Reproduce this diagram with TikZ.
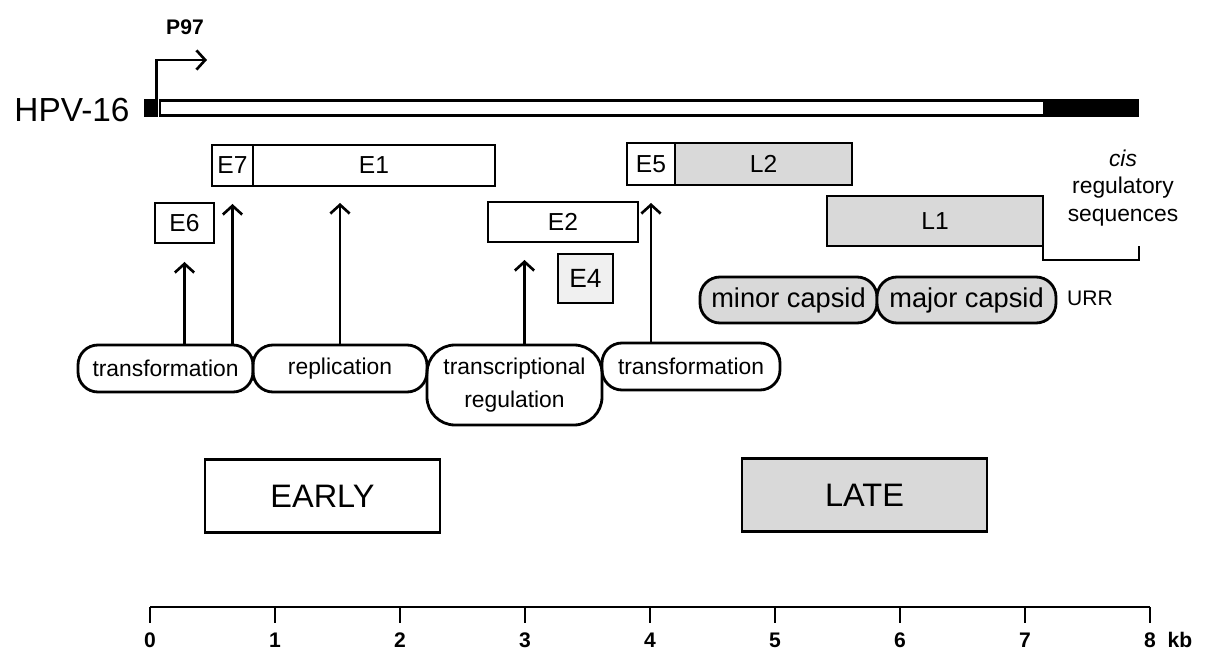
\documentclass[tikz,border=0pt]{standalone}
\usepackage{fontspec}
\setmainfont{Liberation Sans}
\usetikzlibrary{positioning,arrows.meta}
\newdimen\pxu \pxu=0.02cm
\definecolor{lategray}{gray}{0.85}
\begin{document}
\begin{tikzpicture}[x=0.02cm, y=-0.02cm,
gene/.style={rectangle, draw=black, line width=1.6pt, inner sep=1pt, outer sep=0pt, minimum height=41\pxu, font=\fontsize{14}{16}\selectfont},
lategene/.style={gene, fill=lategray},
func/.style={rectangle, rounded corners=20\pxu, draw=black, line width=1.6pt, inner sep=1pt, outer sep=0pt, minimum height=47\pxu, font=\fontsize{13}{19}\selectfont},
capsid/.style={func, fill=lategray, minimum height=46\pxu, font=\fontsize{15.5}{18}\selectfont},
phase/.style={rectangle, draw=black, line width=1.6pt, minimum height=73\pxu, font=\fontsize{18.5}{20}\selectfont},
actarrow/.style={-{Straight Barb[length=5pt,width=11pt]}, line width=1.5pt},
prom/.style={-{Straight Barb[length=5pt,width=11pt]}, line width=1.5pt},
]
\useasboundingbox (0,0) rectangle (1208,655);

% genome
\node[rectangle, draw=black, line width=1.5pt, fill=white, minimum width=978\pxu, minimum height=15\pxu, inner sep=0pt] (bar) at (649,108) {};
\node[rectangle, fill=black, minimum width=96\pxu, minimum height=17\pxu, inner sep=0pt, anchor=east] (urrbar) at (bar.east) {};
\node[rectangle, fill=black, minimum width=14\pxu, minimum height=18\pxu, inner sep=0pt, anchor=east] (start) at (bar.west) {};
\node[font=\fontsize{19}{21}\selectfont] (hpv) at (72,110) {HPV-16};
\coordinate (p97tip) at (207,60);
\draw[prom] ([xshift=-2\pxu]start.north east) |- (p97tip);
\node[font=\bfseries\fontsize{12}{14}\selectfont] (p97) at (185,27) {P97};

% early genes
\node[gene, minimum width=41\pxu] (e7) at (232.5,165.5) {E7};
\node[gene, minimum width=242\pxu, right=0pt of e7] (e1) {E1};
\node[gene, minimum width=59\pxu, minimum height=40\pxu] (e6) at (184.5,223) {E6};
\node[gene, minimum width=150\pxu, minimum height=40\pxu] (e2) at (563,222) {E2};
\node[gene, minimum width=55\pxu, minimum height=49\pxu, fill=gray!12, font=\fontsize{15}{17}\selectfont] (e4) at (585.5,278.5) {E4};
\node[gene, minimum width=48\pxu, minimum height=42\pxu] (e5) at (651,164) {E5};

% late genes
\node[lategene, minimum width=177\pxu, minimum height=42\pxu, right=0pt of e5] (l2) {L2};
\node[lategene, minimum width=216\pxu, minimum height=50\pxu] (l1) at (935,221) {L1};
\node[capsid, minimum width=177\pxu] (minor) at (788.5,300) {minor capsid};
\node[capsid, minimum width=179\pxu, right=0pt of minor] (major) {major capsid};

% regulatory region
\coordinate (cisR) at (1139,246);
\draw[line width=1.5pt] (l1.south east) -- ++(0,14) -| (cisR);
\node[align=center, font=\fontsize{13}{15.5}\selectfont] (cis) at (1123,188) {\textit{cis}\\regulatory\\sequences};
\node[font=\fontsize{12}{14}\selectfont] (urr) at (1090,298) {URR};

% functions
\node[func, minimum width=175\pxu] (trf1) at (165.5,368.5) {transformation};
\node[func, minimum width=174\pxu, right=0pt of trf1] (rep) {replication};
\node[func, minimum width=175\pxu, minimum height=80\pxu, rounded corners=28\pxu, align=center, anchor=north west] (treg) at (rep.north east) {transcriptional\\regulation};
\node[func, minimum width=178\pxu] (trf2) at (691,366.5) {transformation};

\path ([xshift=10\pxu]treg.north) coordinate (tregtop);
\draw[actarrow, shorten >=19\pxu] (trf1.north -| e6.south) -- (e6.south);
\draw[actarrow, shorten >=18\pxu] (trf1.north -| e7.south) -- (e7.south);
\draw[actarrow, shorten >=17\pxu] (rep.north) -- (rep.north |- e1.south);
\draw[actarrow, shorten >=18\pxu] (tregtop) -- (tregtop |- e2.south);
\draw[actarrow, shorten >=18\pxu] (trf2.north -| e5.south) -- (e5.south);

% phases
\node[phase, minimum width=235\pxu] (early) at (322.5,496) {EARLY};
\node[phase, fill=lategray, minimum width=245\pxu] (late) at (864.5,495) {LATE};

% scale
\draw[line width=1.5pt] (150,607) -- (1150,607);
\foreach \k in {0,...,8} {
  \draw[line width=1.5pt] (150+125*\k,607) -- ++(0,16);
  \node[font=\bfseries\fontsize{12}{14}\selectfont] (t\k) at (150+125*\k,640) {\k};
}
\node[font=\bfseries\fontsize{12}{14}\selectfont] (kb) at (1180,640) {kb};
\end{tikzpicture}
\end{document}
